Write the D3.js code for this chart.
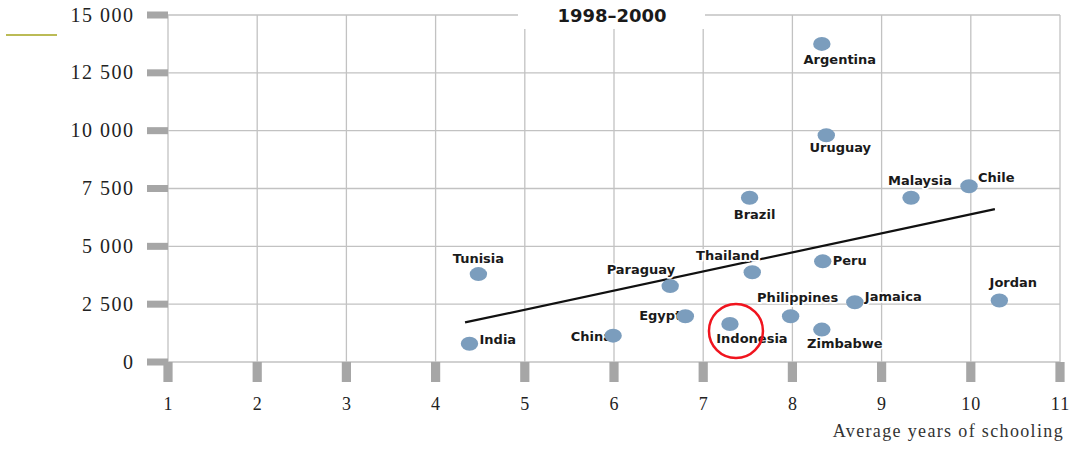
<!DOCTYPE html>
<html>
<head>
<meta charset="utf-8">
<script src="https://cdn.jsdelivr.net/npm/d3@7"></script>
<style>
  html, body { margin: 0; padding: 0; background: #fff; }
  svg { display: block; }
</style>
</head>
<body>
<svg id="chart" width="1073" height="451"></svg>
<script>
// ---- data ----
const countries = ["Argentina","Uruguay","Malaysia","Chile","Brazil","Tunisia","Thailand","Peru","Paraguay","Jordan","Jamaica","Philippines","Egypt","Zimbabwe","Indonesia","China","India"];
const schooling = [8.33, 8.38, 9.33, 9.98, 7.52, 4.48, 7.55, 8.34, 6.63, 10.32, 8.70, 7.98, 6.80, 8.33, 7.30, 5.99, 4.38];
const income    = [13750, 9800, 7100, 7600, 7100, 3800, 3880, 4350, 3280, 2660, 2580, 1980, 1980, 1400, 1640, 1140, 790];
const trendX = [4.33, 10.27];
const trendY = [1710, 6610];
const xTicks = [1,2,3,4,5,6,7,8,9,10,11];
const yTicks = [0, 2500, 5000, 7500, 10000, 12500, 15000];
const yTickLabels = ["0", "2 500", "5 000", "7 500", "10 000", "12 500", "15 000"];
const titleText = "1998\u20132000";
const xAxisTitle = "Average years of schooling";
const highlighted = "Indonesia";

// label placement (layout only): [anchor, dx, dy]
const labelPlacement = {
  Argentina:["middle",18,20], Uruguay:["middle",14,17], Malaysia:["middle",9,-13],
  Chile:["start",9,-4], Brazil:["middle",5,21], Tunisia:["middle",0,-11],
  Thailand:["end",7,-12], Peru:["start",10,4], Paraguay:["end",5,-12],
  Jordan:["middle",14,-13], Jamaica:["start",10,-1], Philippines:["middle",7,-14],
  Egypt:["end",-4,4], Zimbabwe:["middle",23,18], Indonesia:["middle",22,19],
  China:["end",-1,5], India:["start",10,0]
};

const svg = d3.select("#chart");
const x = d3.scaleLinear().domain([1, 11]).range([168, 1060]);
const y = d3.scaleLinear().domain([0, 15000]).range([362, 15]);
const grid = "#c2c2c2", tickCol = "#a6a6a6";

// olive mark top-left
svg.append("line").attr("x1", 6).attr("x2", 57).attr("y1", 35).attr("y2", 35)
  .attr("stroke", "#a4a41e").attr("stroke-width", 1.5);

// gridlines
svg.append("g").selectAll("line.v").data(xTicks).join("line")
  .attr("x1", d => x(d)).attr("x2", d => x(d))
  .attr("y1", y(15000)).attr("y2", y(0))
  .attr("stroke", grid).attr("stroke-width", 1.3);
svg.append("g").selectAll("line.h").data(yTicks).join("line")
  .attr("x1", x(1)).attr("x2", x(11))
  .attr("y1", d => y(d)).attr("y2", d => y(d))
  .attr("stroke", grid).attr("stroke-width", 1.3);

// title box
svg.append("rect").attr("x", 518).attr("y", 0).attr("width", 187).attr("height", 29).attr("fill", "#fff");
svg.append("text").attr("x", 612).attr("y", 22).attr("text-anchor", "middle")
  .attr("font-family", "DejaVu Sans, sans-serif").attr("font-weight", "bold")
  .attr("font-size", 18).attr("fill", "#1a1a1a").text(titleText);

// tick bars
svg.append("g").selectAll("rect").data(yTicks).join("rect")
  .attr("x", 147).attr("width", x(1) - 147)
  .attr("y", d => y(d) - 3.5).attr("height", 7).attr("fill", tickCol);
svg.append("g").selectAll("rect").data(xTicks).join("rect")
  .attr("x", d => x(d) - 4.6).attr("width", 9.2)
  .attr("y", y(0)).attr("height", 20).attr("fill", tickCol);

// y axis labels
const yAxis = d3.axisLeft(y).tickValues(yTicks).tickSize(0).tickPadding(33.5)
  .tickFormat((d, i) => yTickLabels[i]);
const gy = svg.append("g").attr("transform", `translate(${x(1)},0)`).call(yAxis);
gy.select(".domain").remove();
gy.selectAll("text").attr("font-family", "Liberation Serif, serif").attr("font-size", 20)
  .attr("letter-spacing", "1.5px").attr("fill", "#222").attr("dy", "0.3em");

// x axis labels
const xAxis = d3.axisBottom(x).tickValues(xTicks).tickSize(0).tickPadding(0).tickFormat(d3.format("d"));
const gx = svg.append("g").attr("transform", `translate(0,${y(0)})`).call(xAxis);
gx.select(".domain").remove();
gx.selectAll("text").attr("font-family", "Liberation Serif, serif").attr("font-size", 18)
  .attr("letter-spacing", "1px").attr("fill", "#222").attr("dy", 0).attr("y", 48);

// x axis title
svg.append("text").attr("x", 1064).attr("y", 437).attr("text-anchor", "end")
  .attr("font-family", "Liberation Serif, serif").attr("font-size", 18)
  .attr("letter-spacing", "1.35px").attr("fill", "#333").text(xAxisTitle);

// trend line
svg.append("path").datum(trendX.map((d, i) => [d, trendY[i]]))
  .attr("d", d3.line().x(d => x(d[0])).y(d => y(d[1])))
  .attr("stroke", "#111").attr("stroke-width", 2.2).attr("fill", "none");

const pts = countries.map((c, i) => ({ name: c, sx: schooling[i], inc: income[i] }));

// labels (with white halo)
svg.append("g").selectAll("text").data(pts).join("text")
  .attr("x", d => x(d.sx) + labelPlacement[d.name][1])
  .attr("y", d => y(d.inc) + labelPlacement[d.name][2])
  .attr("text-anchor", d => labelPlacement[d.name][0])
  .attr("font-family", "DejaVu Sans, sans-serif").attr("font-weight", "bold")
  .attr("font-size", 13).attr("fill", "#1a1a1a")
  .attr("stroke", "#fff").attr("stroke-width", 3.5).attr("paint-order", "stroke")
  .attr("stroke-linejoin", "round")
  .text(d => d.name);

// dots
svg.append("g").selectAll("ellipse").data(pts).join("ellipse")
  .attr("cx", d => x(d.sx)).attr("cy", d => y(d.inc))
  .attr("rx", 8.7).attr("ry", 7).attr("fill", "#7b9dbd");

// highlight circle
const hp = pts.find(d => d.name === highlighted);
svg.append("circle").attr("cx", x(hp.sx) + 6).attr("cy", y(hp.inc) + 7).attr("r", 27)
  .attr("fill", "none").attr("stroke", "#f0141e").attr("stroke-width", 2.5);
</script>
</body>
</html>
